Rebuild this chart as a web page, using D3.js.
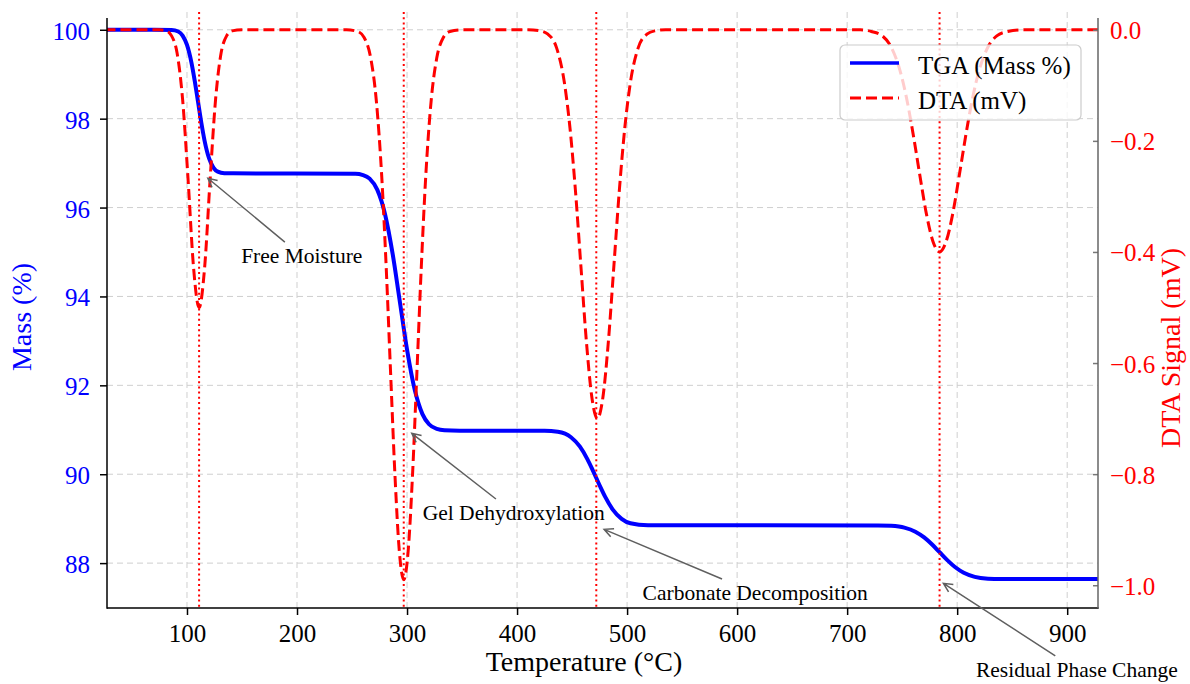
<!DOCTYPE html>
<html><head><meta charset="utf-8">
<script src="https://cdn.jsdelivr.net/npm/d3@7"></script>
<style>
body{margin:0;background:#fff;}
svg{display:block;}
text{font-family:"Liberation Serif","Times New Roman",serif;}
</style>
</head><body>
<svg id="c" width="1190" height="684"></svg>
<script>
// ---------------- data ----------------
const tgaTemp = [25, 70, 86, 92, 96, 100, 104, 107, 110, 113, 116, 120, 124, 128, 134, 142,
  253, 260, 266, 273, 280, 287, 293, 300, 307, 314, 320, 327, 334, 348,
  425, 437, 449, 457, 464, 468, 472, 476, 480, 487, 495, 503, 519, 535,
  728, 740, 752, 762, 770, 777, 784, 791, 798, 806, 816, 828, 840, 858, 930];
const tgaMass = [100, 100, 99.996, 99.961, 99.870, 99.659, 99.268, 98.857, 98.385, 97.913, 97.502, 97.111, 96.900, 96.809, 96.774, 96.77,
  96.762, 96.732, 96.650, 96.397, 95.851, 94.945, 93.961, 92.805, 91.899, 91.353, 91.124, 91.018, 90.988, 90.98,
  90.977, 90.954, 90.833, 90.625, 90.335, 90.132, 89.915, 89.698, 89.495, 89.205, 88.997, 88.898, 88.853, 88.85,
  88.849, 88.839, 88.799, 88.708, 88.578, 88.423, 88.245, 88.067, 87.912, 87.782, 87.691, 87.650, 87.641, 87.64, 87.64];

const dtaTemp = [25, 75, 81, 86, 91, 96, 101, 106, 111, 116, 121, 126, 131, 136, 141, 150,
  245, 255, 261, 267, 272, 277, 281, 285, 289, 293, 297, 301, 305, 309, 313, 317, 322, 327, 333, 339, 350,
  410, 421, 428, 436, 443, 448, 453, 458, 463, 468, 473, 478, 483, 488, 493, 498, 503, 510, 518, 525, 535,
  712, 722, 732, 740, 748, 754, 760, 766, 772, 778, 784, 790, 796, 802, 808, 814, 820, 828, 836, 846, 860, 930];
const dtaSignal = [0, 0, -0.002, -0.011, -0.042, -0.125, -0.270, -0.429, -0.500, -0.429, -0.270, -0.125, -0.042, -0.011, -0.002, 0,
  0, -0.003, -0.014, -0.051, -0.126, -0.264, -0.425, -0.615, -0.801, -0.939, -0.990, -0.939, -0.801, -0.615, -0.425, -0.264, -0.126, -0.051, -0.014, -0.003, 0,
  0, -0.002, -0.008, -0.033, -0.095, -0.175, -0.288, -0.425, -0.561, -0.662, -0.700, -0.662, -0.561, -0.425, -0.288, -0.175, -0.095, -0.033, -0.008, -0.002, 0,
  0, -0.003, -0.011, -0.031, -0.073, -0.123, -0.188, -0.261, -0.331, -0.381, -0.400, -0.381, -0.331, -0.261, -0.188, -0.123, -0.073, -0.031, -0.011, -0.003, 0, 0];

const eventTemps = [111, 297, 472, 784];

const xTicks = [100, 200, 300, 400, 500, 600, 700, 800, 900];
const massTicks = [88, 90, 92, 94, 96, 98, 100];
const dtaTicks = [0, -0.2, -0.4, -0.6, -0.8, -1.0];

const annLabels  = ["Free Moisture", "Gel Dehydroxylation", "Carbonate Decomposition", "Residual Phase Change"];
const annTargetT = [119, 304.3, 479.1, 787.5];
const annTargetM = [96.66, 90.92, 88.76, 87.545];
const annTextT   = [204.3, 397.0, 616.4, 908.8];
const annTextM   = [94.75, 88.97, 87.17, 85.44];

const legendLabels = ["TGA (Mass %)", "DTA (mV)"];

// ---------------- layout ----------------
const L = 107, R = 1098, T = 12, B = 608;
const svg = d3.select("#c");

const x = d3.scaleLinear().domain([27.3, 928]).range([L, R]);
const yM = d3.scaleLinear().domain([86.99, 100.40]).range([B, T]);
const yD = d3.scaleLinear().domain([-1.041, 0.032]).range([B, T]);

const BLUE = "#0000ff", RED = "#ff0000";

svg.append("defs").append("clipPath").attr("id", "clip")
  .append("rect").attr("x", L).attr("y", 0).attr("width", R - L).attr("height", B);

// grid
const grid = svg.append("g");
grid.selectAll("line.gx").data(xTicks).join("line")
  .attr("x1", d => x(d)).attr("x2", d => x(d)).attr("y1", T).attr("y2", B)
  .attr("stroke", "#cfcfcf").attr("stroke-width", 1).attr("stroke-dasharray", "6,4");
grid.selectAll("line.gy").data(massTicks).join("line")
  .attr("x1", L).attr("x2", R).attr("y1", d => yM(d)).attr("y2", d => yM(d))
  .attr("stroke", "#cfcfcf").attr("stroke-width", 1).attr("stroke-dasharray", "6,4");

// plot lines
const plot = svg.append("g").attr("clip-path", "url(#clip)");

const tgaLine = d3.line().x((d, i) => x(tgaTemp[i])).y(d => yM(d)).curve(d3.curveMonotoneX);
const dtaLine = d3.line().x((d, i) => x(dtaTemp[i])).y(d => yD(d)).curve(d3.curveMonotoneX);

plot.append("path").attr("d", tgaLine(tgaMass))
  .attr("fill", "none").attr("stroke", BLUE).attr("stroke-width", 4).attr("stroke-linejoin", "round");

plot.append("path").attr("d", dtaLine(dtaSignal))
  .attr("fill", "none").attr("stroke", RED).attr("stroke-width", 3).attr("stroke-dasharray", "11,5");

plot.selectAll("line.ev").data(eventTemps).join("line")
  .attr("x1", d => x(d)).attr("x2", d => x(d)).attr("y1", T).attr("y2", B)
  .attr("stroke", RED).attr("stroke-width", 2).attr("stroke-dasharray", "2,3.2");

// axes
const axB = svg.append("g").attr("transform", `translate(0,${B})`)
  .call(d3.axisBottom(x).tickValues(xTicks).tickFormat(d3.format("d")).tickSize(7).tickSizeOuter(0).tickPadding(9));
const axL = svg.append("g").attr("transform", `translate(${L},0)`)
  .call(d3.axisLeft(yM).tickValues(massTicks).tickFormat(d3.format("d")).tickSize(7).tickSizeOuter(0).tickPadding(10));
const axR = svg.append("g").attr("transform", `translate(${R},0)`)
  .call(d3.axisRight(yD).tickValues(dtaTicks).tickFormat(d3.format(".1f")).tickSize(-5).tickSizeOuter(0).tickPadding(12));

[axB, axL, axR].forEach(a => { a.select(".domain").remove(); a.attr("font-family", null).attr("font-size", null); });
axB.selectAll(".tick line").attr("stroke", "#000").attr("stroke-width", 1.5);
axB.selectAll(".tick text").attr("font-size", 25).attr("fill", "#000").attr("dy", "0.71em");
axL.selectAll(".tick line").attr("stroke", "#000").attr("stroke-width", 1.5);
axL.selectAll(".tick text").attr("font-size", 25).attr("fill", BLUE).attr("dy", "0.38em");
axR.selectAll(".tick line").attr("stroke", "#777").attr("stroke-width", 1.5);
axR.selectAll(".tick text").attr("font-size", 25).attr("fill", RED).attr("dy", "0.36em");

// spines
svg.append("line").attr("x1", L).attr("x2", L).attr("y1", 18).attr("y2", B + 0.75)
  .attr("stroke", "#000").attr("stroke-width", 1.5);
svg.append("line").attr("x1", L).attr("x2", R + 0.75).attr("y1", B).attr("y2", B)
  .attr("stroke", "#000").attr("stroke-width", 1.5);
svg.append("line").attr("x1", R).attr("x2", R).attr("y1", 18).attr("y2", B)
  .attr("stroke", "#666").attr("stroke-width", 1.5);

// axis labels
svg.append("text").attr("x", 584).attr("y", 671).attr("text-anchor", "middle")
  .attr("font-size", 28).attr("fill", "#000").text("Temperature (°C)");
svg.append("text").attr("transform", "translate(31,317) rotate(-90)").attr("text-anchor", "middle")
  .attr("font-size", 28).attr("fill", BLUE).text("Mass (%)");
svg.append("text").attr("transform", "translate(1180,348) rotate(-90)").attr("text-anchor", "middle")
  .attr("font-size", 28).attr("fill", RED).text("DTA Signal (mV)");

// annotations
const ann = svg.append("g");
annLabels.forEach((lab, i) => {
  const t = ann.append("text").attr("x", x(annTextT[i])).attr("y", yM(annTextM[i]))
    .attr("text-anchor", "middle").attr("font-size", 21.5).attr("fill", "#000").text(lab);
  const bb = t.node().getBBox();
  const cx = bb.x + bb.width / 2, cy = bb.y + bb.height / 2;
  const hx = x(annTargetT[i]), hy = yM(annTargetM[i]);
  const dx = hx - cx, dy = hy - cy;
  const tx = dx !== 0 ? (bb.width / 2 + 2) / Math.abs(dx) : Infinity;
  const ty = dy !== 0 ? (bb.height / 2 + 2) / Math.abs(dy) : Infinity;
  const tt = Math.min(tx, ty);
  const sx = cx + dx * tt, sy = cy + dy * tt;
  const ang = Math.atan2(hy - sy, hx - sx);
  const hl = 10, ha = 26 * Math.PI / 180;
  const p = d3.path();
  p.moveTo(sx, sy); p.lineTo(hx, hy);
  p.moveTo(hx - hl * Math.cos(ang - ha), hy - hl * Math.sin(ang - ha));
  p.lineTo(hx, hy);
  p.lineTo(hx - hl * Math.cos(ang + ha), hy - hl * Math.sin(ang + ha));
  ann.append("path").attr("d", p.toString()).attr("fill", "none")
    .attr("stroke", "#5f5f5f").attr("stroke-width", 1.5);
});

// legend
const lg = svg.append("g");
lg.append("rect").attr("x", 840).attr("y", 45).attr("width", 241).attr("height", 75).attr("rx", 5)
  .attr("fill", "#fff").attr("fill-opacity", 0.8).attr("stroke", "#cccccc").attr("stroke-width", 1.2);
const legStyles = [
  {color: BLUE, w: 3.5, dash: null, y: 63},
  {color: RED, w: 3, dash: "11,5", y: 98}
];
legendLabels.forEach((lab, i) => {
  const s = legStyles[i];
  lg.append("line").attr("x1", 850).attr("x2", 899).attr("y1", s.y).attr("y2", s.y)
    .attr("stroke", s.color).attr("stroke-width", s.w).attr("stroke-dasharray", s.dash);
  lg.append("text").attr("x", 918).attr("y", s.y + 10.5).attr("font-size", 25).attr("fill", "#000").text(lab);
});
</script>
</body></html>
